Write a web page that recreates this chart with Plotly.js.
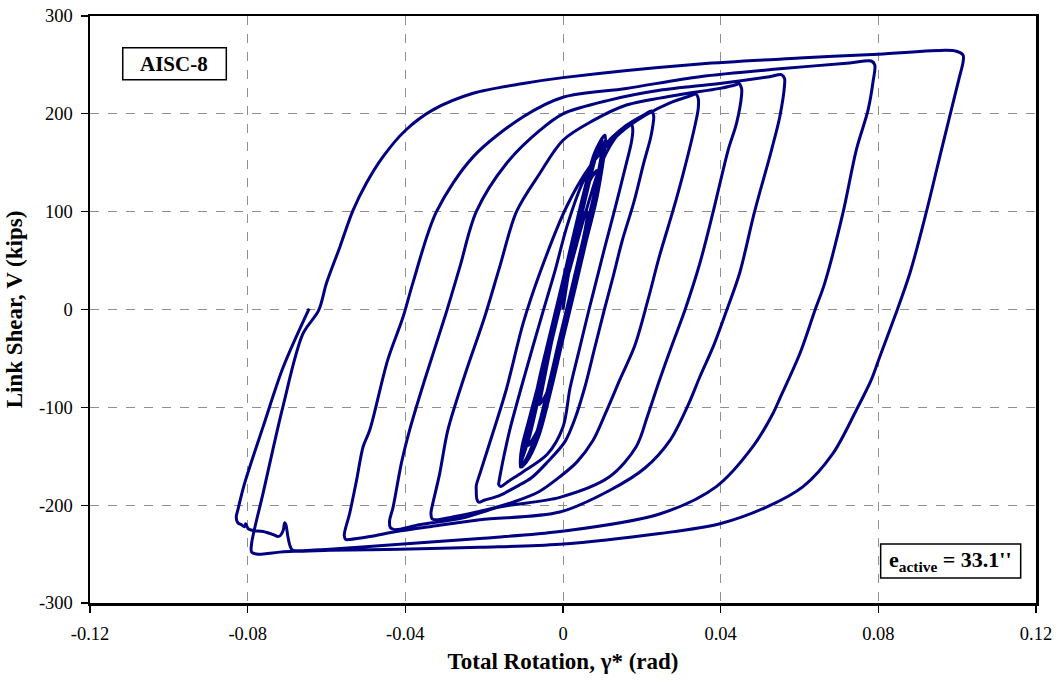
<!DOCTYPE html>
<html>
<head>
<meta charset="utf-8">
<script src="https://cdn.plot.ly/plotly-3.0.1.min.js"></script>
<style>
  html, body { margin: 0; padding: 0; background: #ffffff; }
  #chart { width: 1060px; height: 685px; }
</style>
</head>
<body>
<div id="chart"></div>
<script>
// Link shear vs. total rotation, cyclic test AISC-8 (rotation in rad, shear in kips).
// Each cycle runs from the previous negative corner up to its positive peak and back down.

// Small elastic cycles near the origin
const cycleA_rot = [0, 0.0025, 0.0052, 0.0060, 0.0034, 0.0010, -0.0014, -0.0042, -0.0060, -0.0058,
  -0.0022, 0.0002, 0.0025, 0.0050, 0.0061, 0.0034, 0.0010, -0.0014, -0.0042, -0.0061,
  -0.0043, -0.0014, 0.0015, 0.0045, 0.0070, 0.0087, 0.0061, 0.0032, 0.0002, -0.0027, -0.0058, -0.0088,
  -0.0073, -0.0043, -0.0014, 0.0015, 0.0045, 0.0071, 0.0088, 0.0061, 0.0032, 0.0002, -0.0027, -0.0058, -0.0090,
  -0.0065, -0.0036, -0.0006, 0.0023, 0.0053, 0.0080, 0.0106, 0.0089, 0.0059, 0.0030, 0.0000, -0.0029, -0.0062, -0.0092, -0.0108,
  -0.0085, -0.0056, -0.0027, 0.0003, 0.0032, 0.0061, 0.0085, 0.0101, 0.0080, 0.0050, 0.0021, -0.0009, -0.0038, -0.0070, -0.0098, -0.0106,
  -0.0094, -0.0065, -0.0036, -0.0006, 0.0023, 0.0053, 0.0081, 0.0107, 0.0089, 0.0059, 0.0030, 0.0000, -0.0029, -0.0062, -0.0093, -0.0107];
const cycleA_shear = [0, 60, 98, 99, 40, 0, -40, -86, -97, -93,
  -20, 20, 60, 96, 100, 40, 0, -40, -86, -97,
  -50, 0, 50, 100, 133, 142, 80, 30, -20, -70, -118, -139,
  -100, -50, 0, 50, 100, 134, 141, 80, 30, -20, -70, -118, -139,
  -80, -30, 20, 70, 120, 160, 178, 120, 70, 20, -30, -80, -130, -155, -161,
  -130, -80, -30, 20, 70, 120, 158, 172, 120, 70, 20, -30, -80, -130, -156, -160,
  -130, -80, -30, 20, 70, 120, 161, 178, 120, 70, 20, -30, -80, -130, -156, -161];

const cycleB_rot = [-0.0108, -0.0104, -0.0088, -0.0055, -0.0017, 0.0020, 0.0058, 0.0098, 0.0138, 0.0165, 0.0174, 0.0177,
  0.0174, 0.0158, 0.0133, 0.0105, 0.0080, 0.0066, 0.0042, 0.0018, 0.0000, -0.0040, -0.0102, -0.0140, -0.0158, -0.0163];
const cycleB_shear = [-152, -140, -115, -65, -8, 45, 100, 150, 178, 187, 189, 184,
  172, 145, 105, 62, 22, 0, -40, -80, -120, -148, -166, -176, -181, -179];

const cycleC_rot = [-0.0162, -0.0157, -0.0150, -0.0135, -0.0097, -0.0055, -0.0020, 0.0010, 0.0050, 0.0100, 0.0160, 0.0210, 0.0224, 0.0230,
  0.0228, 0.0222, 0.0205, 0.0180, 0.0150, 0.0128, 0.0105, 0.0080, 0.0055, 0.0030, 0.0005, -0.0042, -0.0080, -0.0118, -0.0160, -0.0200, -0.0214, -0.0219];
const cycleC_shear = [-175, -164, -150, -123, -67, -8, 40, 85, 130, 165, 188, 200, 203, 198,
  188, 175, 150, 110, 70, 35, 0, -40, -80, -112, -135, -157, -172, -181, -190, -195, -197, -193];

const cycleD_rot = [-0.0220, -0.0220, -0.0211, -0.0177, -0.0144, -0.0101, -0.0059, 0.0009, 0.0068, 0.0144, 0.0211, 0.0270, 0.0320, 0.0338, 0.0343,
  0.0343, 0.0332, 0.0305, 0.0279, 0.0245, 0.0215, 0.0182, 0.0144, 0.0108, 0.0076, 0.0035, -0.0008, -0.0060, -0.0120, -0.0169, -0.0230, -0.0280, -0.0320, -0.0332, -0.0335];
const cycleD_shear = [-186, -180, -168, -125, -82, -14, 37, 105, 146, 180, 199, 211, 218, 220, 216,
  205, 183, 139, 101, 55, 9, -37, -72, -106, -134, -156, -171, -186, -196, -202, -208, -212, -215, -214, -209];

const cycleE_rot = [-0.0334, -0.0313, -0.0292, -0.0249, -0.0199, -0.0161, -0.0118, -0.0059, 0.0000, 0.0076, 0.0161, 0.0288, 0.0398, 0.0440, 0.0446, 0.0453,
  0.0453, 0.0440, 0.0419, 0.0381, 0.0347, 0.0309, 0.0276, 0.0245, 0.0215, 0.0186, 0.0118, -0.0008, -0.0161, -0.0253, -0.0364, -0.0427, -0.0438, -0.0440];
const cycleE_shear = [-205, -168, -123, -67, -8, 43, 100, 139, 173, 193, 209, 219, 226, 230, 231, 226,
  219, 190, 163, 100, 47, -1, -37, -72, -108, -140, -171, -192, -202, -213, -220, -225, -223, -216];

const cycleF_rot = [-0.0431, -0.0410, -0.0389, -0.0351, -0.0300, -0.0262, -0.0220, -0.0144, -0.0059, 0.0000, 0.0118, 0.0245, 0.0398, 0.0524, 0.0554, 0.0562,
  0.0562, 0.0550, 0.0529, 0.0486, 0.0448, 0.0415, 0.0381, 0.0347, 0.0317, 0.0271, 0.0208, 0.0118, -0.0008, -0.0211, -0.0338, -0.0423, -0.0490, -0.0541, -0.0551, -0.0555];
const cycleF_shear = [-202, -157, -123, -72, -8, 43, 100, 149, 183, 200, 214, 224, 231, 238, 240, 236,
  229, 197, 163, 100, 37, -1, -38, -69, -98, -134, -162, -185, -207, -215, -222, -227, -232, -235, -235, -231];

const cycleG_rot = [-0.0541, -0.0524, -0.0507, -0.0490, -0.0445, -0.0406, -0.0381, -0.0321, -0.0228, -0.0101, 0.0000, 0.0161, 0.0347, 0.0550, 0.0727, 0.0782, 0.0791,
  0.0787, 0.0774, 0.0744, 0.0711, 0.0664, 0.0639, 0.0601, 0.0550, 0.0533, 0.0482, 0.0389, 0.0245, -0.0008, -0.0211, -0.0414, -0.0592, -0.0719, -0.0762, -0.0778, -0.0790];
const cycleG_shear = [-208, -175, -140, -123, -52, -8, 27, 100, 156, 197, 217, 226, 238, 246, 252, 254, 250,
  234, 204, 163, 100, 27, -1, -45, -91, -106, -140, -181, -209, -227, -234, -240, -245, -248, -250, -250, -248];

// Last cycle: peak near 0.10 rad, strength drops on the way back, then final unloading
const cycleH_rot = [-0.0790, -0.0761, -0.0711, -0.0660, -0.0620, -0.0600, -0.0566, -0.0533, -0.0499, -0.0457, -0.0400, -0.0330, -0.0228, -0.0101, 0.0000, 0.0347, 0.0600, 0.0800, 0.0973, 0.0998, 0.1015,
  0.1015, 0.1006, 0.0960, 0.0922, 0.0880, 0.0841, 0.0803, 0.0782, 0.0744, 0.0685, 0.0609, 0.0516, 0.0398, 0.0245, -0.0008, -0.0211, -0.0414, -0.0592, -0.0686,
  -0.0693, -0.0698, -0.0703, -0.0706, -0.0710, -0.0717, -0.0723, -0.0736, -0.0761, -0.0786, -0.0799, -0.0805, -0.0808, -0.0816, -0.0825, -0.0829, -0.0825, -0.0808, -0.0761, -0.0710, -0.0644];
const cycleH_shear = [-239, -188, -100, -25, -1, 27, 64, 101, 129, 156, 183, 204, 221, 231, 237, 251, 257, 261, 265, 264, 260,
  253, 238, 163, 100, 37, -8, -49, -72, -103, -147, -181, -202, -219, -229, -240, -243, -245, -246, -246,
  -241, -232, -220, -218, -226, -231, -232, -230, -227, -226, -224, -219, -222, -220, -218, -212, -205, -178, -120, -59, 1];

const xTickVals = [-0.12, -0.08, -0.04, 0, 0.04, 0.08, 0.12];
const xTickText = ['-0.12', '-0.08', '-0.04', '0', '0.04', '0.08', '0.12'];
const yTickVals = [-300, -200, -100, 0, 100, 200, 300];
const yTickText = ['-300', '-200', '-100', '0', '100', '200', '300'];

const rotation = [].concat(cycleA_rot, cycleB_rot, cycleC_rot, cycleD_rot, cycleE_rot, cycleF_rot, cycleG_rot, cycleH_rot);
const shear = [].concat(cycleA_shear, cycleB_shear, cycleC_shear, cycleD_shear, cycleE_shear, cycleF_shear, cycleG_shear, cycleH_shear);

const serif = 'Liberation Serif, Times New Roman, serif';

const trace = {
  x: rotation,
  y: shear,
  type: 'scatter',
  mode: 'lines',
  line: { color: '#000080', width: 3, shape: 'spline', smoothing: 0.9 },
  hoverinfo: 'skip'
};

const axisCommon = {
  showgrid: true,
  gridcolor: '#8f8f8f',
  griddash: 'dash',
  gridwidth: 1,
  zeroline: false,
  showline: true,
  linecolor: '#000000',
  linewidth: 2.5,
  mirror: true,
  ticks: 'outside',
  ticklen: 7,
  tickwidth: 1.3,
  tickcolor: '#000000',
  tickfont: { family: serif, size: 18.5, color: '#000000' }
};

const layout = {
  width: 1060,
  height: 685,
  margin: { l: 90, r: 24, t: 16, b: 82 },
  paper_bgcolor: '#ffffff',
  plot_bgcolor: '#ffffff',
  showlegend: false,
  xaxis: Object.assign({}, axisCommon, {
    range: [-0.12, 0.12],
    tickvals: xTickVals,
    ticktext: xTickText,
    ticklabelstandoff: 5,
    title: { text: '<b>Total Rotation, γ* (rad)</b>', font: { family: serif, size: 23, color: '#000000' }, standoff: 10 }
  }),
  yaxis: Object.assign({}, axisCommon, {
    range: [-300, 300],
    tickvals: yTickVals,
    ticktext: yTickText,
    ticklabelstandoff: 4,
    title: { text: '<b>Link Shear, V (kips)</b>', font: { family: serif, size: 23, color: '#000000' }, standoff: 10 }
  }),
  shapes: [
    { type: 'rect', xref: 'paper', yref: 'paper', x0: 0.0346, x1: 0.1441, y0: 0.8914, y1: 0.9459,
      line: { color: '#000000', width: 1.5 }, fillcolor: '#ffffff', layer: 'above' },
    { type: 'rect', xref: 'paper', yref: 'paper', x0: 0.8358, x1: 0.9838, y0: 0.0426, y1: 0.1004,
      line: { color: '#000000', width: 1.5 }, fillcolor: '#ffffff', layer: 'above' }
  ],
  annotations: [
    { xref: 'paper', yref: 'paper', x: 0.0893, y: 0.9186, xanchor: 'center', yanchor: 'middle',
      text: '<b>AISC-8</b>', showarrow: false, font: { family: serif, size: 21, color: '#000000' } },
    { xref: 'paper', yref: 'paper', x: 0.9098, y: 0.0715, xanchor: 'center', yanchor: 'middle',
      text: "<b>e<sub>active</sub> = 33.1''</b>", showarrow: false, font: { family: serif, size: 22, color: '#000000' } }
  ]
};

Plotly.newPlot('chart', [trace], layout, { staticPlot: true, displayModeBar: false });
</script>
</body>
</html>
